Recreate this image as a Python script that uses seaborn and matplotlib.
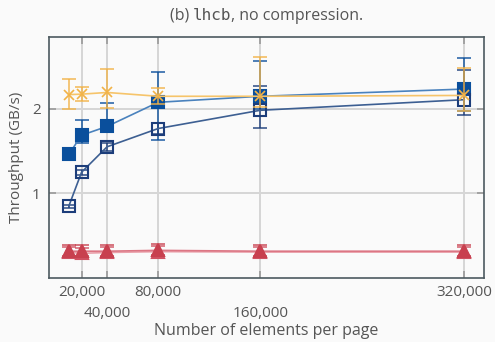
import numpy as np
import pandas as pd
import matplotlib
matplotlib.use("Agg")
import matplotlib.pyplot as plt
import seaborn as sns

# ---- data ----
page_sizes = [10000, 20000, 40000, 80000, 160000, 320000]
tick_pos_row1 = [20000, 80000, 320000]
tick_labels_row1 = ["20,000", "80,000", "320,000"]
tick_pos_row2 = [40000, 160000]
tick_labels_row2 = ["40,000", "160,000"]

orange_y = [2.165, 2.17, 2.19, 2.145, 2.145, 2.155]
orange_lo = [2.00, 2.09, 2.01, 2.05, 2.02, 1.97]
orange_hi = [2.35, 2.26, 2.47, 2.24, 2.61, 2.48]

filled_y = [1.46, 1.686, 1.79, 2.074, 2.145, 2.23]
filled_lo = [1.44, 1.60, 1.73, 1.63, 2.00, 1.97]
filled_hi = [1.48, 1.87, 2.07, 2.43, 2.56, 2.60]

open_y = [0.85, 1.25, 1.55, 1.765, 1.98, 2.105]
open_lo = [0.83, 1.22, 1.50, 1.70, 1.77, 1.92]
open_hi = [0.87, 1.28, 1.60, 1.83, 2.27, 2.45]

red_a_y = [0.32, 0.32, 0.32, 0.33, 0.32, 0.32]
red_a_lo = [0.26, 0.26, 0.26, 0.27, 0.26, 0.26]
red_a_hi = [0.39, 0.39, 0.39, 0.40, 0.39, 0.39]

red_b_y = [0.31, 0.295, 0.305, 0.315, 0.31, 0.31]
red_b_lo = [0.25, 0.24, 0.25, 0.26, 0.25, 0.25]
red_b_hi = [0.37, 0.36, 0.37, 0.38, 0.37, 0.37]

sns.set_theme(style="white")
plt.rcParams["font.family"] = ["Open Sans", "DejaVu Sans"]

bg = "#fafafa"
txt = "#555555"
fig = plt.figure(figsize=(4.95, 3.42), dpi=100, facecolor=bg)
ax = fig.add_axes([0.099, 0.186, 0.879, 0.705], facecolor=bg)

series = [
    ("orange", orange_y, orange_lo, orange_hi, "#f6c46a", "#f2b347", "x", "full", 7, 6),
    ("filled", filled_y, filled_lo, filled_hi, "#4a82bd", "#0a4f9c", "s", "full", 8.5, 3),
    ("open", open_y, open_lo, open_hi, "#3d5f92", "#1c3d7a", "s", "none", 8.5, 4),
    ("red_b", red_b_y, red_b_lo, red_b_hi, "#eaa0aa", "#d05262", "^", "full", 8.5, 1),
    ("red_a", red_a_y, red_a_lo, red_a_hi, "#dc7684", "#c8404f", "^", "full", 8.5, 2),
]

for name, y, lo, hi, lc, mc, mk, fill, ms, z in series:
    df = pd.DataFrame({"x": page_sizes, "y": y})
    y_arr = np.array(y)
    yerr = np.vstack([y_arr - np.array(lo), np.array(hi) - y_arr])
    ax.errorbar(page_sizes, y, yerr=yerr, fmt="none", ecolor=mc, elinewidth=1.2,
                capsize=5, capthick=1.2, alpha=0.85, zorder=z)
    sns.lineplot(data=df, x="x", y="y", ax=ax, color=lc, linewidth=1.2,
                 marker=mk, markersize=ms, markeredgecolor=mc,
                 markerfacecolor=(mc if fill == "full" else "none"),
                 markeredgewidth=(1.5 if mk != "x" else 1.2), zorder=z + 0.5,
                 errorbar=None)

ax.set_xlim(-5500, 335500)
ax.set_ylim(0, 2.84)
ax.set_xticks(tick_pos_row1)
ax.set_xticklabels(tick_labels_row1, color=txt, fontsize=11)
ax.set_xticks(tick_pos_row2, minor=True)
ax.set_xticklabels(tick_labels_row2, minor=True, color=txt, fontsize=11)
ax.set_yticks([1, 2])
ax.set_yticklabels(["1", "2"], color=txt, fontsize=11)
ax.grid(True, which="both", axis="x", color="#d6d6d6", linewidth=1.4)
ax.grid(True, which="major", axis="y", color="#d6d6d6", linewidth=1.4)
ax.set_axisbelow(True)
ax.tick_params(which="both", direction="in", length=5, width=1.2, color="#999999",
               top=True, right=True, bottom=True, left=True, pad=6)
ax.tick_params(axis="x", which="minor", pad=20)
ax.tick_params(axis="x", which="major", pad=5)
for s in ax.spines.values():
    s.set_color("#4d5a60")
    s.set_linewidth(1.2)

ax.set_xlabel("Number of elements per page", color=txt, fontsize=11.5, labelpad=1)
ax.set_ylabel("Throughput (GB/s)", color=txt, fontsize=11, labelpad=6)

# title built from three pieces (monospace for the dataset name)
pieces = [("(b) ", "Open Sans"), ("lhcb", "DejaVu Sans Mono"), (", no compression.", "Open Sans")]
fig.canvas.draw()
renderer = fig.canvas.get_renderer()
texts = []
widths = []
for s, fam in pieces:
    t = fig.text(0, 0, s, family=fam, fontsize=11.5, color=txt, va="baseline")
    widths.append(t.get_window_extent(renderer).width)
    texts.append(t)
total = sum(widths)
ax_bb = ax.get_window_extent(renderer)
cx = (ax_bb.x0 + ax_bb.x1) / 2
x0 = cx - total / 2
base_y = 342 - 20
for t, w in zip(texts, widths):
    t.set_position((x0 / 495, base_y / 342))
    x0 += w

fig.savefig("out.png", dpi=100, facecolor=bg)
